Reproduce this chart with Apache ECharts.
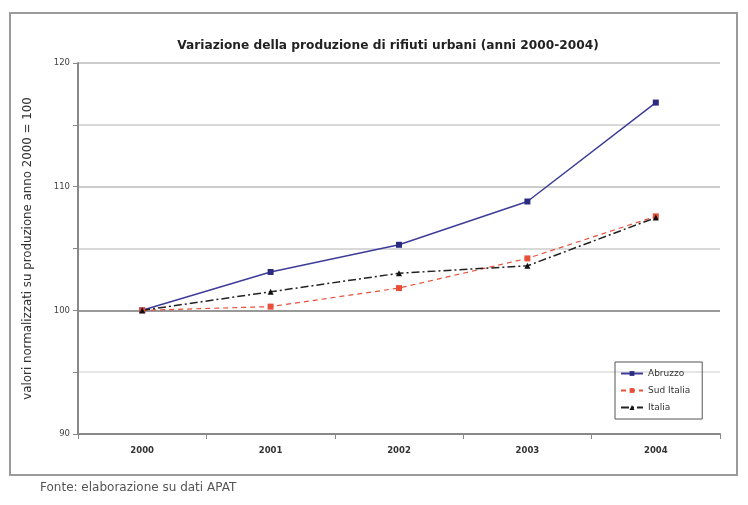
<!DOCTYPE html>
<html><head><meta charset="utf-8">
<script src="https://cdn.jsdelivr.net/npm/echarts@6/dist/echarts.min.js"></script>
<style>html,body{margin:0;padding:0;background:#fff}#c{width:748px;height:505px}</style>
</head><body><div id="c"></div>
<script>
const categories = ['2000','2001','2002','2003','2004'];
const abruzzo = [100, 103.1, 105.3, 108.8, 116.8];
const sudItalia = [100, 100.3, 101.8, 104.2, 107.6];
const italia = [100, 101.5, 103.0, 103.6, 107.5];
const seriesNames = ['Abruzzo', 'Sud Italia', 'Italia'];
const yLabels = [90, 100, 110, 120];

const chart = echarts.init(document.getElementById('c'));
const font = 'DejaVu Sans, Liberation Sans, sans-serif';
chart.setOption({
  animation: false,
  backgroundColor: '#fff',
  textStyle: { fontFamily: font },
  title: {
    text: 'Variazione della produzione di rifiuti urbani (anni 2000-2004)',
    left: 383, top: 35, textAlign: 'center',
    textStyle: { fontSize: 12.2, fontWeight: 'bold', color: '#222', fontFamily: font }
  },
  graphic: [
    { type: 'rect', shape: { x: 10, y: 13, width: 727, height: 462 }, style: { fill: 'none', stroke: '#9a9a9a', lineWidth: 2 } },
    { type: 'text', left: 40, top: 482, style: { text: 'Fonte: elaborazione su dati APAT', fontSize: 12, fill: '#555', fontFamily: font } }
  ],
  legend: {
    data: seriesNames,
    orient: 'vertical',
    left: 615, top: 362,
    itemWidth: 22, itemHeight: 6, itemGap: 8,
    padding: [7, 12, 7, 5],
    borderColor: '#555', borderWidth: 1,
    textStyle: { fontSize: 9, color: '#333', fontFamily: font }
  },
  grid: { left: 78, right: 28, top: 63, bottom: 71 },
  xAxis: {
    type: 'category', data: categories, boundaryGap: true,
    axisLine: { lineStyle: { color: '#888', width: 2 } },
    axisTick: { show: true, lineStyle: { color: '#888' } },
    axisLabel: { fontSize: 8.5, color: '#333', fontWeight: 'bold', margin: 12, fontFamily: font }
  },
  yAxis: {
    type: 'value', min: 90, max: 120, interval: 5,
    name: 'valori normalizzati su produzione anno 2000 = 100',
    nameLocation: 'middle', nameGap: 44, nameRotate: 90,
    nameTextStyle: { fontSize: 11.8, color: '#333', fontFamily: font },
    axisLine: { show: true, lineStyle: { color: '#888', width: 2 } },
    axisTick: { show: true, lineStyle: { color: '#888' } },
    axisLabel: {
      fontSize: 8.5, color: '#444', margin: 8, fontFamily: font,
      formatter: v => yLabels.indexOf(v) >= 0 ? String(v) : ''
    },
    splitLine: { lineStyle: { color: ['#aaa', '#ddd', '#777', '#ccc', '#bbb', '#ccc', '#bbb'], width: 1.5 } }
  },
  series: [
    { name: seriesNames[0], type: 'line', data: abruzzo, symbol: 'rect', symbolSize: 6,
      itemStyle: { color: '#2b2b80' }, lineStyle: { color: '#3d3d99', width: 1.5 } },
    { name: seriesNames[1], type: 'line', data: sudItalia, symbol: 'rect', symbolSize: 6,
      itemStyle: { color: '#e8503a' }, lineStyle: { color: '#e8503a', width: 1.2, type: [5, 4] } },
    { name: seriesNames[2], type: 'line', data: italia, symbol: 'triangle', symbolSize: 6,
      itemStyle: { color: '#111' }, lineStyle: { color: '#222', width: 1.5, type: [8, 3, 2, 3] } }
  ]
});
</script></body></html>
